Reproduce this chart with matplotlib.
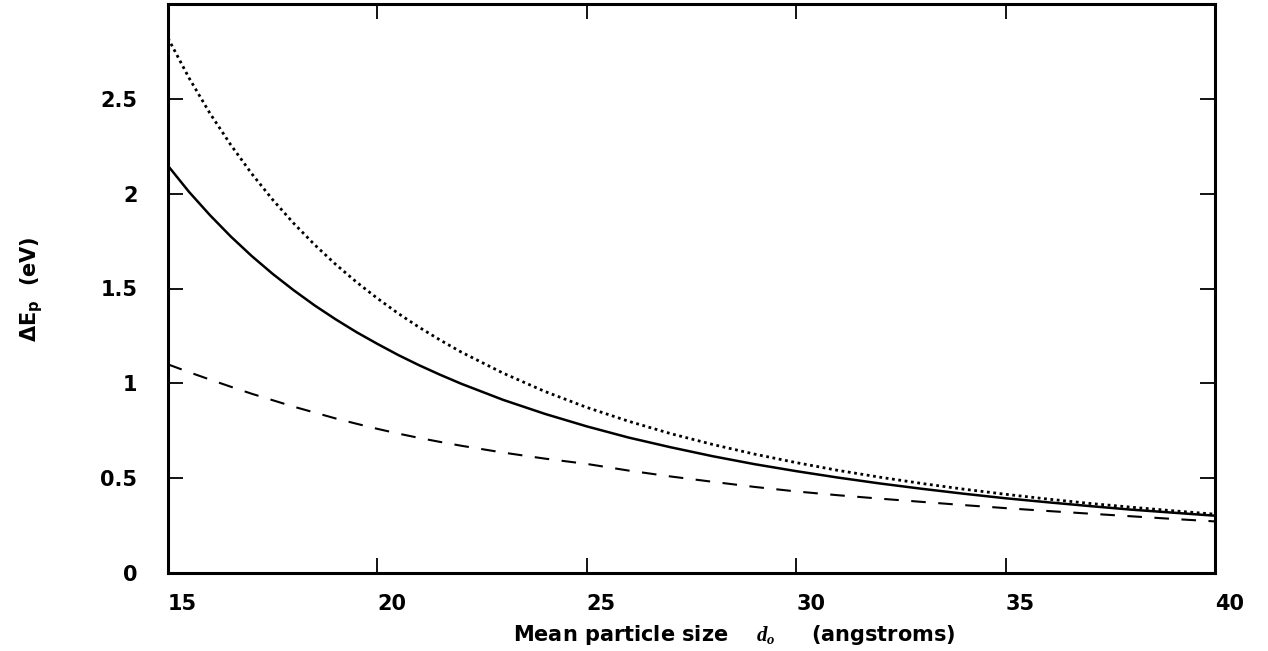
import matplotlib
matplotlib.use('Agg')
import matplotlib.pyplot as plt

plt.rcParams['font.family'] = 'DejaVu Sans'
plt.rcParams['font.weight'] = 'bold'
plt.rcParams['mathtext.fontset'] = 'custom'
plt.rcParams['mathtext.rm'] = 'DejaVu Sans'
plt.rcParams['mathtext.bf'] = 'DejaVu Sans:bold'
plt.rcParams['mathtext.it'] = 'Liberation Serif:italic:bold'

# mean particle size (angstroms)
d = [15, 15.5, 16, 16.5, 17, 17.5, 18, 18.5, 19, 19.5, 20, 20.5, 21, 21.5,
     22, 23, 24, 25, 26, 27, 28, 29, 30, 31, 32, 33, 34, 35, 36, 37, 38, 39, 40]

# dE_p (eV)
solid = [2.147, 2.010, 1.887, 1.774, 1.671, 1.577, 1.491, 1.411, 1.338, 1.270,
         1.208, 1.149, 1.095, 1.045, 0.998, 0.913, 0.839, 0.773, 0.714, 0.663,
         0.616, 0.574, 0.537, 0.503, 0.472, 0.444, 0.418, 0.394, 0.373, 0.353,
         0.334, 0.318, 0.302]
dotted = [2.820, 2.611, 2.424, 2.257, 2.105, 1.968, 1.844, 1.731, 1.628, 1.534,
          1.448, 1.368, 1.295, 1.228, 1.165, 1.054, 0.957, 0.873, 0.800, 0.735,
          0.678, 0.627, 0.582, 0.541, 0.505, 0.472, 0.442, 0.415, 0.390, 0.367,
          0.347, 0.328, 0.310]
dashed = [1.100, 1.059, 1.020, 0.982, 0.945, 0.911, 0.877, 0.846, 0.815, 0.787,
          0.760, 0.735, 0.712, 0.691, 0.671, 0.635, 0.603, 0.575, 0.540, 0.509,
          0.481, 0.454, 0.430, 0.410, 0.392, 0.375, 0.358, 0.342, 0.327, 0.313,
          0.299, 0.285, 0.272]

x_ticks = [15, 20, 25, 30, 35, 40]
y_ticks = [0, 0.5, 1, 1.5, 2, 2.5]
y_tick_labels = ['0', '0.5', '1', '1.5', '2', '2.5']

fig = plt.figure(figsize=(12.68, 6.51), dpi=100)
ax = fig.add_axes([168 / 1268, 78 / 651, 1047 / 1268, 569 / 651])

ax.plot(d, solid, color='black', lw=1.8)
ax.plot(d, dotted, color='black', lw=2.0, linestyle=(0, (1, 1.3)))
ax.plot(d, dashed, color='black', lw=1.5, linestyle=(0, (7, 6)))

ax.set_xlim(15, 40)
ax.set_ylim(0, 3)
ax.set_xticks(x_ticks)
ax.set_xticklabels([str(v) for v in x_ticks], ha='left')
ax.set_yticks(y_ticks)
ax.set_yticklabels(y_tick_labels)

ax.tick_params(direction='in', length=11, width=1.3, top=True, right=True,
               labelsize=15)
ax.tick_params(axis='x', pad=15)
ax.tick_params(axis='y', pad=22)
for s in ax.spines.values():
    s.set_linewidth(2.2)

fig.text(734 / 1268, 1 - 635 / 651,
         r'Mean particle size    $d_o$     (angstroms)',
         ha='center', va='center', fontsize=15, fontweight='bold')
fig.text(32 / 1268, 1 - 289 / 651, r'$\Delta\mathbf{E}_\mathbf{p}$  (eV)',
         rotation=90, ha='center', va='center', fontsize=15, fontweight='bold')

fig.savefig('out.png', dpi=100)
